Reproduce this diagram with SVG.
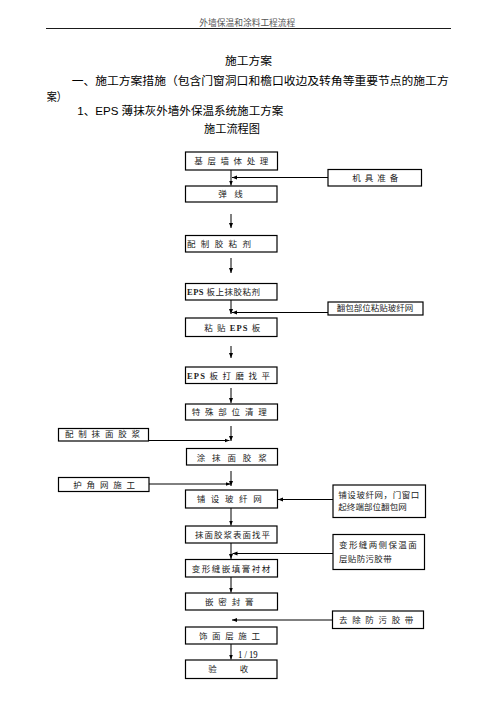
<svg xmlns="http://www.w3.org/2000/svg" width="496" height="702" viewBox="0 0 496 702">
<style>
.bg{fill:#fff}
.box{fill:#fff;stroke:#000;stroke-width:1.2}
.bt{font-family:"Liberation Serif","Noto Sans CJK SC",serif;font-size:8.5px;fill:#222}
.h{font-family:"Liberation Sans","Noto Sans CJK SC",sans-serif;font-size:11.5px;fill:#000}
.hd{font-family:"Liberation Serif","Noto Sans CJK SC",serif;font-size:8.7px;fill:#555}
.eps{font-weight:bold}
.cn{stroke:#000;stroke-width:1;fill:none}
</style>
<defs>
<marker id="ah" viewBox="0 0 10 10" refX="10" refY="5" markerWidth="5" markerHeight="5" orient="auto" markerUnits="userSpaceOnUse">
<path d="M0,1 L10,5 L0,9 z" fill="#000"/>
</marker>
</defs>
<rect class="bg" x="0" y="0" width="496" height="702"/>

<g id="header">
<text class="hd" x="199.3" y="26" textLength="96" lengthAdjust="spacingAndGlyphs">外墙保温和涂料工程流程</text>
<line x1="46" y1="28.5" x2="451" y2="28.5" stroke="#000" stroke-width="0.9"/>
</g>

<g id="headings">
<text class="h" x="225" y="65" textLength="47" lengthAdjust="spacingAndGlyphs">施工方案</text>
<text class="h" x="71.7" y="85" textLength="377" lengthAdjust="spacingAndGlyphs">一、施工方案措施（包含门窗洞口和檐口收边及转角等重要节点的施工方</text>
<text class="h" x="46.7" y="100.5" textLength="20" lengthAdjust="spacingAndGlyphs">案）</text>
<text class="h" x="77.3" y="115" textLength="206" lengthAdjust="spacingAndGlyphs">1、EPS 薄抹灰外墙外保温系统施工方案</text>
<text class="h" x="204" y="132.5" textLength="56" lengthAdjust="spacingAndGlyphs">施工流程图</text>
</g>

<g id="connectors">
<line class="cn" x1="231" y1="170" x2="231" y2="185.5" marker-end="url(#ah)"/>
<line class="cn" x1="328" y1="177.5" x2="232" y2="177.5" marker-end="url(#ah)"/>
<line class="cn" x1="231" y1="214" x2="231" y2="228" marker-end="url(#ah)"/>
<line class="cn" x1="231" y1="258" x2="231" y2="273" marker-end="url(#ah)"/>
<line class="cn" x1="231" y1="300" x2="231" y2="314" marker-end="url(#ah)"/>
<line class="cn" x1="328" y1="312.5" x2="232" y2="312.5" marker-end="url(#ah)"/>
<line class="cn" x1="231" y1="346" x2="231" y2="358" marker-end="url(#ah)"/>
<line class="cn" x1="231" y1="388" x2="231" y2="403" marker-end="url(#ah)"/>
<line class="cn" x1="231" y1="426" x2="231" y2="441" marker-end="url(#ah)"/>
<line class="cn" x1="148.5" y1="440.5" x2="229.5" y2="440.5" marker-end="url(#ah)" stroke-width="1.3"/>
<line class="cn" x1="231" y1="471" x2="231" y2="486" marker-end="url(#ah)"/>
<line class="cn" x1="149" y1="484" x2="230.5" y2="484" marker-end="url(#ah)"/>
<line class="cn" x1="333" y1="499.5" x2="278" y2="499.5" marker-end="url(#ah)"/>
<line class="cn" x1="231" y1="508" x2="231" y2="525.5" marker-end="url(#ah)"/>
<line class="cn" x1="231" y1="543" x2="231" y2="559" marker-end="url(#ah)"/>
<line class="cn" x1="333" y1="553.5" x2="232.5" y2="553.5" marker-end="url(#ah)"/>
<line class="cn" x1="231" y1="577" x2="231" y2="592.5" marker-end="url(#ah)"/>
<line class="cn" x1="332.5" y1="620" x2="232" y2="620" marker-end="url(#ah)"/>
<line class="cn" x1="231" y1="644" x2="231" y2="659.5" marker-end="url(#ah)"/>
</g>

<g id="n1"><rect class="box" x="185.5" y="152" width="92" height="18"/>
<text class="bt" x="194.3" y="164" textLength="74" lengthAdjust="spacing">基层墙体处理</text></g>
<g id="n2"><rect class="box" x="185.5" y="186" width="91.5" height="16"/>
<text class="bt" x="218.3" y="196.5" textLength="24.5" lengthAdjust="spacing">弹线</text></g>
<g id="n3"><rect class="box" x="185.5" y="235.5" width="91.5" height="16.5"/>
<text class="bt" x="187" y="247" textLength="64" lengthAdjust="spacing">配制胶粘剂</text></g>
<g id="n4"><rect class="box" x="185.5" y="283.5" width="91.5" height="16.5"/>
<text class="bt" x="187" y="294.5" textLength="73" lengthAdjust="spacing"><tspan class="eps">EPS</tspan> 板上抹胶粘剂</text></g>
<g id="n5"><rect class="box" x="185.5" y="318" width="91.5" height="18.5"/>
<text class="bt" x="204.3" y="330.5" textLength="56" lengthAdjust="spacing">粘 贴 <tspan class="eps">EPS</tspan> 板</text></g>
<g id="n6"><rect class="box" x="185.5" y="367" width="91.5" height="16.5"/>
<text class="bt" x="187" y="378.5" textLength="83" lengthAdjust="spacing"><tspan class="eps">EPS</tspan> 板 打 磨 找 平</text></g>
<g id="n7"><rect class="box" x="185.5" y="404" width="92" height="16"/>
<text class="bt" x="191.7" y="415.3" textLength="75" lengthAdjust="spacing">特殊部位清理</text></g>
<g id="n8"><rect class="box" x="186.5" y="448.5" width="91" height="16.5"/>
<text class="bt" x="196.7" y="460.8" textLength="70" lengthAdjust="spacing">涂抹面胶浆</text></g>
<g id="n9"><rect class="box" x="185.5" y="490" width="92" height="18"/>
<text class="bt" x="196.7" y="502.3" textLength="65" lengthAdjust="spacing">铺设玻纤网</text></g>
<g id="n10"><rect class="box" x="185.5" y="526" width="91.5" height="17"/>
<text class="bt" x="195" y="538" textLength="75" lengthAdjust="spacing">抹面胶浆表面找平</text></g>
<g id="n11"><rect class="box" x="185.5" y="559.5" width="92" height="17.5"/>
<text class="bt" x="191.7" y="572" textLength="78.5" lengthAdjust="spacing">变形缝嵌填膏衬材</text></g>
<g id="n12"><rect class="box" x="185.5" y="593" width="92" height="17"/>
<text class="bt" x="205" y="604.7" textLength="48.5" lengthAdjust="spacing">嵌密封膏</text></g>
<g id="n13"><rect class="box" x="185.5" y="627" width="91.5" height="17"/>
<text class="bt" x="199" y="638.7" textLength="61" lengthAdjust="spacing">饰面层施工</text></g>
<g id="n14"><rect class="box" x="185.5" y="660" width="91.5" height="18.5"/>
<text class="bt" x="208.3" y="672.3" textLength="40" lengthAdjust="spacing">验收</text></g>

<g id="s1"><rect class="box" x="328" y="169.5" width="93.5" height="16.5"/>
<text class="bt" x="352.3" y="180.7" textLength="46" lengthAdjust="spacing">机具准备</text></g>
<g id="s2"><rect class="box" x="328" y="302" width="95" height="13"/>
<text class="bt" x="336.7" y="311.3" textLength="76.6" lengthAdjust="spacing">翻包部位粘贴玻纤网</text></g>
<g id="s3"><rect class="box" x="58.5" y="428.5" width="90" height="12.5"/>
<text class="bt" x="65" y="436.8" textLength="75" lengthAdjust="spacing">配制抹面胶浆</text></g>
<g id="s4"><rect class="box" x="58.5" y="477.5" width="90.5" height="14"/>
<text class="bt" x="73.3" y="487.6" textLength="61.7" lengthAdjust="spacing">护角网施工</text></g>
<g id="s5"><rect class="box" x="333" y="485" width="92.5" height="32.5"/>
<text class="bt" x="338.3" y="497.5" textLength="81" lengthAdjust="spacing">铺设玻纤网，门窗口</text>
<text class="bt" x="338.3" y="509.7" textLength="68.4" lengthAdjust="spacing">起终端部位翻包网</text></g>
<g id="s6"><rect class="box" x="333" y="534.5" width="91.5" height="35"/>
<text class="bt" x="339" y="547.8" textLength="77.7" lengthAdjust="spacing">变形缝两侧保温面</text>
<text class="bt" x="339" y="562" textLength="52.7" lengthAdjust="spacing">层贴防污胶带</text></g>
<g id="s7"><rect class="box" x="332.5" y="611" width="91" height="17.5"/>
<text class="bt" x="339" y="623" textLength="74.3" lengthAdjust="spacing">去除防污胶带</text></g>

<g id="pagenum">
<text x="238" y="657.5" font-family="Liberation Serif, serif" font-size="9.5" fill="#000" textLength="19.7" lengthAdjust="spacingAndGlyphs">1 / 19</text>
</g>
</svg>
